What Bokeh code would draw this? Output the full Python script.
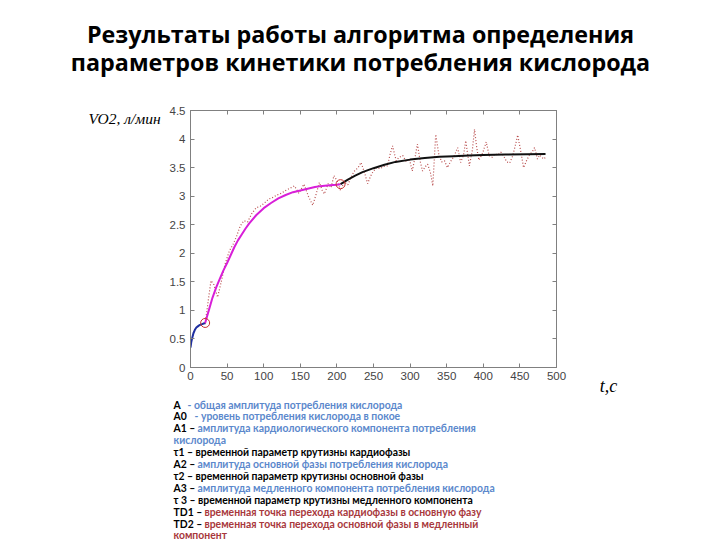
from bokeh.plotting import figure
from bokeh.models import Range1d, LinearAxis, FixedTicker
from bokeh.layouts import column, row
from bokeh.core.properties import value
from bokeh.embed import file_html
from bokeh.resources import INLINE

# ---- data ----
blue_t = [0, 1, 2, 4, 6, 8, 10, 12, 14, 16, 18, 20]
blue_y = [0.35, 0.44, 0.50, 0.60, 0.66, 0.70, 0.72, 0.74, 0.75, 0.76, 0.77, 0.78]

mag_t = [20, 25, 30, 35, 40, 45, 50, 55, 60, 65, 70, 75, 80, 90, 100, 110, 120,
         130, 140, 150, 160, 170, 180, 190, 200, 205]
mag_y = [0.78, 1.00, 1.22, 1.40, 1.55, 1.70, 1.83, 1.97, 2.11, 2.23, 2.33, 2.43,
         2.52, 2.67, 2.79, 2.88, 2.96, 3.02, 3.07, 3.10, 3.13, 3.16, 3.18, 3.19,
         3.20, 3.21]

blk_t = [205, 215, 225, 235, 250, 265, 280, 300, 320, 340, 360, 380, 400, 430, 460, 485]
blk_y = [3.21, 3.29, 3.36, 3.42, 3.49, 3.55, 3.60, 3.64, 3.67, 3.69, 3.70, 3.71,
         3.72, 3.73, 3.735, 3.74]

meas_t = [20, 24, 28, 32, 37, 42, 47, 53, 58, 63, 68, 73, 78, 84, 90, 95, 101, 107,
          113, 118, 124, 130, 136, 142, 148, 155, 161, 167, 172, 176, 180, 183, 188,
          192, 196, 201, 205, 210, 215, 220, 224, 229, 233, 238, 242, 246, 249, 254,
          259, 264, 269, 273, 276, 281, 285, 290, 295, 299, 303, 307, 310, 314, 317,
          321, 324, 328, 331, 335, 339, 343, 347, 351, 355, 360, 365, 369, 373, 376,
          381, 385, 388, 391, 394, 399, 404, 408, 412, 416, 420, 424, 428, 432, 436,
          440, 444, 447, 451, 455, 459, 463, 467, 470, 474, 477, 480, 483, 486]
meas_y = [0.76, 1.15, 1.52, 1.45, 1.23, 1.50, 1.80, 2.04, 2.15, 2.30, 2.48, 2.57,
          2.55, 2.70, 2.80, 2.82, 2.88, 2.95, 2.98, 3.02, 3.05, 3.10, 3.14, 3.18,
          3.05, 3.21, 3.00, 2.84, 3.05, 3.24, 3.10, 3.04, 3.22, 3.15, 3.36, 3.25,
          3.10, 3.25, 3.20, 3.35, 3.44, 3.50, 3.59, 3.40, 3.22, 3.35, 3.42, 3.50,
          3.48, 3.52, 3.53, 3.75, 3.88, 3.62, 3.68, 3.71, 3.60, 3.65, 3.44, 3.70,
          3.91, 3.60, 3.44, 3.52, 3.56, 3.40, 3.18, 4.08, 3.75, 3.60, 3.62, 3.50,
          3.60, 3.70, 3.85, 3.59, 3.72, 3.97, 3.53, 3.80, 4.17, 3.85, 3.63, 3.75,
          3.95, 3.71, 3.68, 3.74, 3.72, 3.77, 3.70, 3.60, 3.58, 3.70, 3.90, 4.07,
          3.80, 3.50, 3.62, 3.72, 3.78, 3.85, 3.65, 3.72, 3.68, 3.65, 3.70]

td_t = [20, 205]
td_y = [0.78, 3.21]

x_ticks = [0, 50, 100, 150, 200, 250, 300, 350, 400, 450, 500]
y_ticks = [0, 0.5, 1, 1.5, 2, 2.5, 3, 3.5, 4, 4.5]

title_lines = ["Результаты работы алгоритма определения",
               "параметров кинетики потребления кислорода"]
y_label = "VO2, л/мин"
x_label = "t,c"

legend_prefix = ["A", "A0", "A1 – ", "", "τ1 – временной параметр крутизны кардиофазы",
                 "A2 – ", "τ2 – временной параметр крутизны основной фазы", "A3 – ",
                 "τ 3 – временной параметр крутизны медленного компонента", "TD1 – ",
                 "TD2 – ", ""]
legend_rest = ["- общая амплитуда потребления кислорода",
               "- уровень потребления кислорода в покое",
               "амплитуда кардиологического компонента потребления",
               "кислорода",
               "",
               "амплитуда основной фазы потребления кислорода",
               "",
               "амплитуда медленного компонента потребления кислорода",
               "",
               "временная точка перехода кардиофазы в основную фазу",
               "временная точка перехода основной фазы в медленный",
               "компонент"]
legend_kind = ["b", "b", "b", "b", "", "b", "", "b", "", "r", "r", "r"]

# ---- layout (pixels) ----
W, H = 720, 540
TOP_H = 95           # title strip
MID_H = 303          # plot strip
BOT_H = H - TOP_H - MID_H
LEFT_W, MAIN_W = 165, 415
RIGHT_W = W - LEFT_W - MAIN_W
FRAME_L, FRAME_R, FRAME_T, FRAME_B = 190, 556, 110, 367


def canvas_fig(w, h, y0=0, y1=None):
    f = figure(width=w, height=h, output_backend="svg", toolbar_location=None,
               x_range=Range1d(0, w),
               y_range=Range1d(y1 if y1 is not None else h, y0),
               x_axis_type=None, y_axis_type=None,
               min_border_left=0, min_border_right=0,
               min_border_top=0, min_border_bottom=0)
    f.outline_line_color = None
    f.background_fill_color = "white"
    f.border_fill_color = "white"
    return f


# title strip
top = canvas_fig(W, TOP_H)
top.text(x=[360, 360], y=[33, 61], text=title_lines, text_font=value("Open Sans"),
         text_font_size=value("23.3px"), text_font_style="bold", text_align="center",
         text_baseline="middle", text_color="black")

# left strip with y label (its frame is aligned with the main frame: canvas y 110..367)
left = canvas_fig(LEFT_W, MID_H, y0=FRAME_T, y1=FRAME_B)
left.text(x=[88], y=[117.5], text=[y_label], text_font=value("Liberation Serif"),
          text_font_size=value("15.5px"), text_font_style="italic", text_align="left",
          text_baseline="middle", text_color="black")

# right strip: x label shown as an axis label under a narrow frame
right = figure(width=RIGHT_W, height=MID_H, output_backend="svg", toolbar_location=None,
               x_range=Range1d(0, 1), y_range=Range1d(0, 1), y_axis_type=None,
               min_border_left=0, min_border_right=RIGHT_W - 2 * (608 - LEFT_W - MAIN_W),
               min_border_top=0, min_border_bottom=0)
right.outline_line_color = None
right.grid.visible = False
rx = right.xaxis[0]
rx.ticker = FixedTicker(ticks=[])
rx.axis_line_color = None
rx.major_tick_line_color = None
rx.minor_tick_line_color = None
rx.major_label_text_font_size = "0px"
rx.major_label_standoff = 0
rx.axis_label = x_label
rx.axis_label_text_font = "Liberation Serif"
rx.axis_label_text_font_style = "italic"
rx.axis_label_text_font_size = "18px"
rx.axis_label_text_color = "black"
rx.axis_label_standoff = 8

# main plot
p = figure(width=MAIN_W, height=MID_H, output_backend="svg", toolbar_location=None,
           x_range=Range1d(0, 500), y_range=Range1d(0, 4.5),
           min_border_left=FRAME_L - LEFT_W,
           min_border_right=LEFT_W + MAIN_W - FRAME_R,
           min_border_top=FRAME_T - TOP_H,
           min_border_bottom=TOP_H + MID_H - FRAME_B)
p.xgrid.visible = False
p.ygrid.visible = False
p.outline_line_color = "#808080"
p.background_fill_color = "white"
p.border_fill_color = "white"

for ax in (p.xaxis[0], p.yaxis[0]):
    ax.axis_line_color = "#808080"
    ax.major_tick_line_color = "#808080"
    ax.major_tick_in = 4
    ax.major_tick_out = 0
    ax.minor_tick_line_color = None
    ax.major_label_text_font = "Liberation Sans"
    ax.major_label_text_font_size = "11.5px"
    ax.major_label_text_color = "#444444"
p.xaxis[0].ticker = FixedTicker(ticks=x_ticks)
p.yaxis[0].ticker = FixedTicker(ticks=y_ticks)
p.xaxis[0].major_label_standoff = 4
p.yaxis[0].major_label_standoff = 5

for loc, tk in (("above", x_ticks), ("right", y_ticks)):
    a = LinearAxis(ticker=FixedTicker(ticks=tk))
    a.axis_line_color = "#808080"
    a.major_tick_line_color = "#808080"
    a.major_tick_in = 4
    a.major_tick_out = 0
    a.minor_tick_line_color = None
    a.major_label_standoff = 0
    a.major_label_text_font_size = "0px"
    a.major_label_text_color = None
    p.add_layout(a, loc)

p.line(meas_t, meas_y, line_color="#b84c4c", line_width=1.2, line_dash="1 2")
p.line(blue_t, blue_y, line_color="#1f2fa0", line_width=2)
p.line(mag_t, mag_y, line_color="#d81fd8", line_width=2)
p.line(blk_t, blk_y, line_color="#111111", line_width=2)
p.scatter(td_t, td_y, size=9, marker="circle", fill_color=None,
          line_color="#c83030", line_width=1)

# legend text strip
bot = canvas_fig(W, BOT_H)
colors = {"b": "#5b88cc", "r": "#a8383c"}
line_y0, step = 404 - TOP_H - MID_H, 11.9
groups = {}
for i, (pre, rest, kind) in enumerate(zip(legend_prefix, legend_rest, legend_kind)):
    yy = line_y0 + i * step
    if pre:
        g = groups.setdefault("black", ([], [], []))
        g[0].append(173); g[1].append(yy); g[2].append(pre)
    if rest:
        if pre.startswith("TD"):
            xs = 204
        elif pre == "A":
            xs = 187
        elif pre == "A0":
            xs = 194
        elif pre:
            xs = 197
        else:
            xs = 173
        g = groups.setdefault(colors[kind], ([], [], []))
        g[0].append(xs); g[1].append(yy); g[2].append(rest)
for c, (xs, ys, ts) in groups.items():
    bot.text(x=xs, y=ys, text=ts, text_font=value("Lato"),
             text_font_size=value("10.4px"), text_font_style="bold",
             text_align="left", text_baseline="middle", text_color=c)

layout = column(top, row(left, p, right), bot)
open("out.html", "w").write(file_html(layout, INLINE))
